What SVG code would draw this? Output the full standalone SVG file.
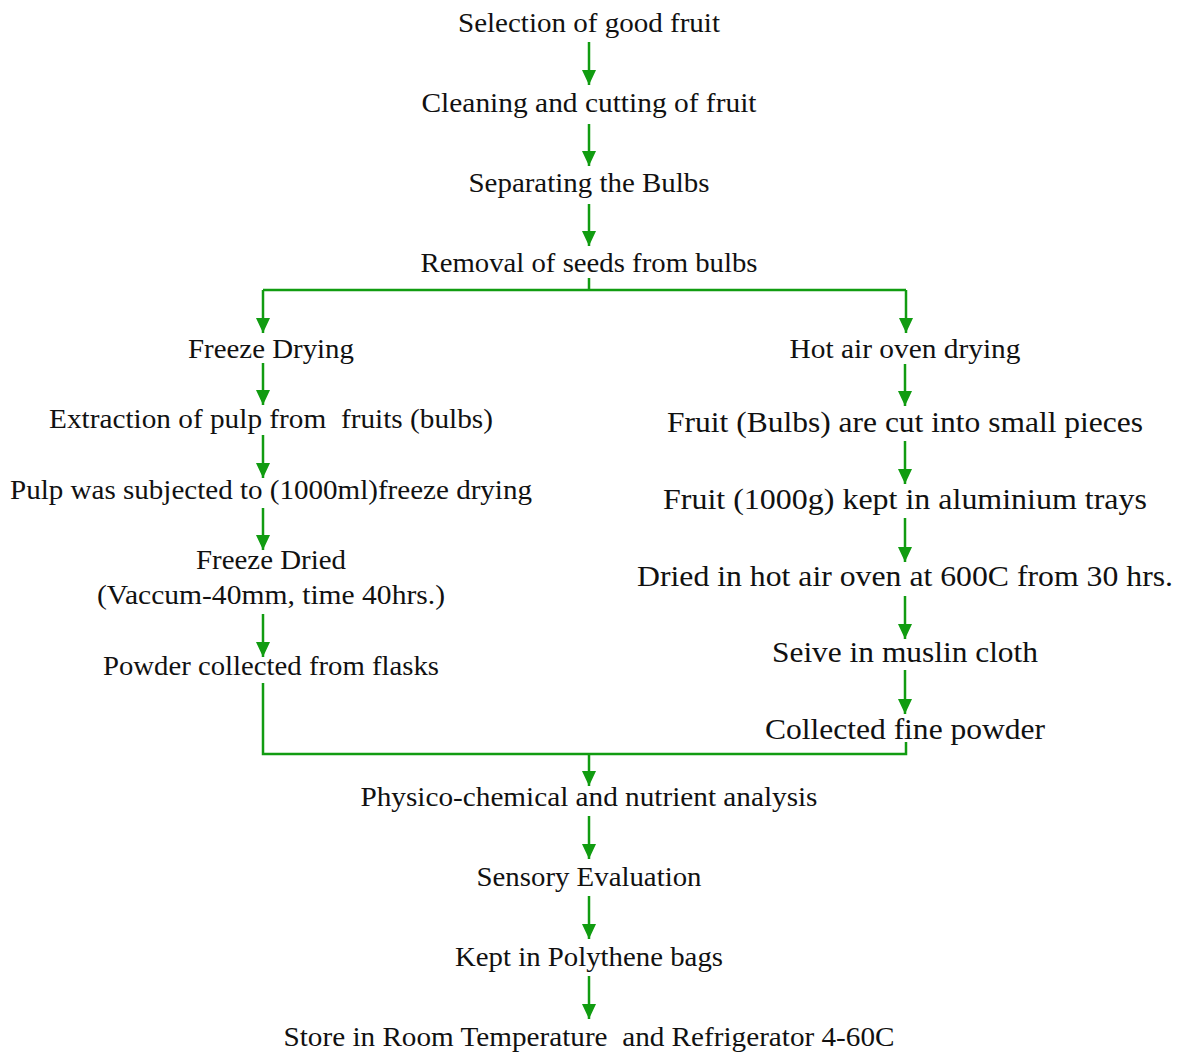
<svg xmlns="http://www.w3.org/2000/svg" width="1181" height="1053" viewBox="0 0 1181 1053">
<style>
text{font-family:"Liberation Serif","DejaVu Serif",serif;fill:#111;text-anchor:middle;font-size:27px}
.l{font-size:30px}
.c{fill:none;stroke:#119c11;stroke-width:2.5}
</style>
<defs>
<marker id="a" viewBox="0 0 15 14" refX="15" refY="7" markerWidth="15" markerHeight="14" markerUnits="userSpaceOnUse" orient="auto">
<path d="M0,0 L15,7 L0,14 Z" fill="#119c11"/>
</marker>
</defs>
<rect width="1181" height="1053" fill="#fff"/>
<g id="connectors">
<path class="c" d="M589,42 V85" marker-end="url(#a)"/>
<path class="c" d="M589,124 V166" marker-end="url(#a)"/>
<path class="c" d="M589,204 V246" marker-end="url(#a)"/>
<path class="c" d="M589,278 V290 M263,290 H906"/>
<path class="c" d="M263,290 V333" marker-end="url(#a)"/>
<path class="c" d="M906,290 V333" marker-end="url(#a)"/>
<path class="c" d="M263,363 V405" marker-end="url(#a)"/>
<path class="c" d="M263,435 V478" marker-end="url(#a)"/>
<path class="c" d="M263,508 V550" marker-end="url(#a)"/>
<path class="c" d="M263,614 V657" marker-end="url(#a)"/>
<path class="c" d="M905,364 V406" marker-end="url(#a)"/>
<path class="c" d="M905,441 V484" marker-end="url(#a)"/>
<path class="c" d="M905,518 V562" marker-end="url(#a)"/>
<path class="c" d="M905,596 V639" marker-end="url(#a)"/>
<path class="c" d="M905,670 V714" marker-end="url(#a)"/>
<path class="c" d="M263,683 V754 H906 V742"/>
<path class="c" d="M589,754 V786" marker-end="url(#a)"/>
<path class="c" d="M589,816 V859" marker-end="url(#a)"/>
<path class="c" d="M589,896 V939" marker-end="url(#a)"/>
<path class="c" d="M589,976 V1019" marker-end="url(#a)"/>
</g>
<g id="n1"><text x="589" y="32" textLength="262" lengthAdjust="spacingAndGlyphs">Selection of good fruit</text></g>
<g id="n2"><text x="589" y="112" textLength="335" lengthAdjust="spacingAndGlyphs">Cleaning and cutting of fruit</text></g>
<g id="n3"><text x="589" y="192" textLength="241" lengthAdjust="spacingAndGlyphs">Separating the Bulbs</text></g>
<g id="n4"><text x="589" y="272" textLength="337" lengthAdjust="spacingAndGlyphs">Removal of seeds from bulbs</text></g>
<g id="n5"><text x="271" y="358" textLength="166" lengthAdjust="spacingAndGlyphs">Freeze Drying</text></g>
<g id="n6"><text x="271" y="428" textLength="444" lengthAdjust="spacingAndGlyphs" xml:space="preserve">Extraction of pulp from  fruits (bulbs)</text></g>
<g id="n7"><text x="271" y="499" textLength="522" lengthAdjust="spacingAndGlyphs">Pulp was subjected to (1000ml)freeze drying</text></g>
<g id="n8"><text x="271" y="569" textLength="150" lengthAdjust="spacingAndGlyphs">Freeze Dried</text><text x="271" y="604" textLength="348" lengthAdjust="spacingAndGlyphs">(Vaccum-40mm, time 40hrs.)</text></g>
<g id="n9"><text x="271" y="675" textLength="336" lengthAdjust="spacingAndGlyphs">Powder collected from flasks</text></g>
<g id="n10"><text x="905" y="358" textLength="231" lengthAdjust="spacingAndGlyphs">Hot air oven drying</text></g>
<g id="n11"><text class="l" x="905" y="432" textLength="476" lengthAdjust="spacingAndGlyphs">Fruit (Bulbs) are cut into small pieces</text></g>
<g id="n12"><text class="l" x="905" y="509" textLength="484" lengthAdjust="spacingAndGlyphs">Fruit (1000g) kept in aluminium trays</text></g>
<g id="n13"><text class="l" x="905" y="586" textLength="536" lengthAdjust="spacingAndGlyphs">Dried in hot air oven at 600C from 30 hrs.</text></g>
<g id="n14"><text class="l" x="905" y="662" textLength="266" lengthAdjust="spacingAndGlyphs">Seive in muslin cloth</text></g>
<g id="n15"><text class="l" x="905" y="739" textLength="280" lengthAdjust="spacingAndGlyphs">Collected fine powder</text></g>
<g id="n16"><text x="589" y="806" textLength="457" lengthAdjust="spacingAndGlyphs">Physico-chemical and nutrient analysis</text></g>
<g id="n17"><text x="589" y="886" textLength="225" lengthAdjust="spacingAndGlyphs">Sensory Evaluation</text></g>
<g id="n18"><text x="589" y="966" textLength="268" lengthAdjust="spacingAndGlyphs">Kept in Polythene bags</text></g>
<g id="n19"><text x="589" y="1046" textLength="611" lengthAdjust="spacingAndGlyphs" xml:space="preserve">Store in Room Temperature  and Refrigerator 4-60C</text></g>
</svg>
